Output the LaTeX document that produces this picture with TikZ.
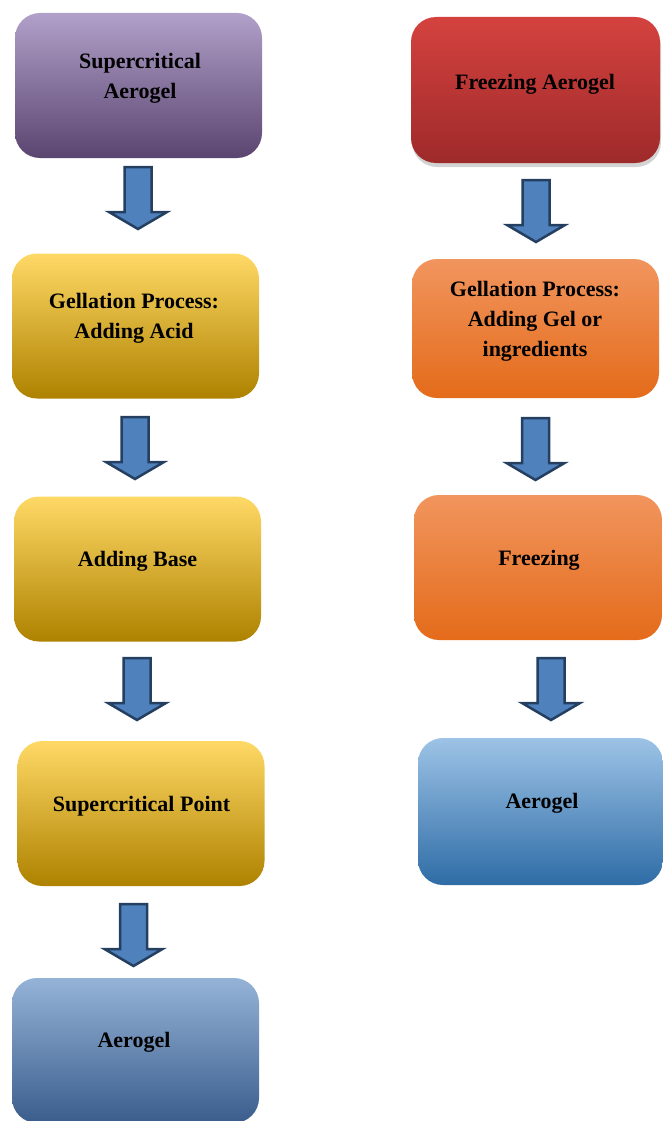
\documentclass[tikz,border=0pt]{standalone}
\usepackage{fontspec}
\setmainfont{Liberation Serif}
\usetikzlibrary{shadows}
\definecolor{puT}{HTML}{B1A0C9}
\definecolor{puM}{HTML}{8064A2}
\definecolor{puB}{HTML}{5A4570}
\definecolor{yeT}{HTML}{FFD966}
\definecolor{yeM}{HTML}{FFC000}
\definecolor{yeB}{HTML}{AE8200}
\definecolor{blT}{HTML}{95B3D7}
\definecolor{blM}{HTML}{4F81BD}
\definecolor{blB}{HTML}{3A5D8C}
\definecolor{reT}{HTML}{D4423F}
\definecolor{reM}{HTML}{C0393A}
\definecolor{reB}{HTML}{9E2A2A}
\definecolor{orT}{HTML}{F1955E}
\definecolor{orM}{HTML}{F37F2C}
\definecolor{orB}{HTML}{E46B1A}
\definecolor{lbT}{HTML}{9DC3E6}
\definecolor{lbM}{HTML}{5B9BD5}
\definecolor{lbB}{HTML}{2E6CA6}
\definecolor{arF}{HTML}{4F81BD}
\definecolor{arD}{HTML}{243F60}
\tikzset{
  bx/.style={rounded corners=25pt, draw=none, inner sep=0pt, minimum width=247pt, minimum height=145pt},
  purplebox/.style={bx, top color=puT, middle color=puM, bottom color=puB},
  yellowbox/.style={bx, top color=yeT, middle color=yeM, bottom color=yeB},
  bluebox/.style={bx, top color=blT, middle color=blM, bottom color=blB},
  redbox/.style={bx, top color=reT, middle color=reM, bottom color=reB,
     drop shadow={opacity=0.35, shadow xshift=1pt, shadow yshift=-4pt}},
  orangebox/.style={bx, top color=orT, middle color=orM, bottom color=orB},
  lightbluebox/.style={bx, top color=lbT, middle color=lbM, bottom color=lbB},
  lbl/.style={align=center, inner sep=0pt, font=\fontsize{22}{30}\selectfont\bfseries},
  arrowstyle/.style={fill=arF, draw=arD, line width=2.5pt, line join=miter},
  darrow/.pic={\path[arrowstyle] (-13.5,0) -- (13.5,0) -- (13.5,45) -- (29,45)
     -- (0,62) -- (-29,45) -- (-13.5,45) -- cycle;}
}
\begin{document}
\begin{tikzpicture}[x=1pt, y=-1pt]
\useasboundingbox (0,0) rectangle (663,1121);
% left column
\node[purplebox] (b1) at (138.5,85.5) {};
\node[yellowbox] (b2) at (135.5,326) {};
\node[yellowbox] (b3) at (137.5,569) {};
\node[yellowbox] (b4) at (141,813.5) {};
\node[bluebox] (b5) at (135.5,1050.5) {};
\node[lbl] (t1) at (140,78) {Supercritical\\Aerogel};
\node[lbl] (t2) at (134,318) {Gellation Process:\\Adding Acid};
\node[lbl] (t3) at (137.5,561) {Adding Base};
\node[lbl] (t4) at (141.5,806) {Supercritical Point};
\node[lbl] (t5) at (134,1042) {Aerogel};
% right column
\node[redbox] (r1) at (535.5,90) [minimum width=249pt, minimum height=146pt] {};
\node[orangebox] (r2) at (535.5,328.5) [minimum height=139pt] {};
\node[orangebox] (r3) at (538,567.5) [minimum width=248pt] {};
\node[lightbluebox] (r4) at (540.5,811.5) [minimum width=245pt, minimum height=147pt] {};
\node[lbl] (s1) at (535,84) {Freezing Aerogel};
\node[lbl] (s2) at (535,321) {Gellation Process:\\Adding Gel or\\ingredients};
\node[lbl] (s3) at (539,560) {Freezing};
\node[lbl] (s4) at (542,803) {Aerogel};
% block arrows
\pic (a1) at (138,167) {darrow};
\pic (a2) at (135,417) {darrow};
\pic (a3) at (137,658) {darrow};
\pic (a4) at (133.5,904) {darrow};
\pic (c1) at (536,180) {darrow};
\pic (c2) at (535.5,418) {darrow};
\pic (c3) at (551,658) {darrow};
\end{tikzpicture}
\end{document}
